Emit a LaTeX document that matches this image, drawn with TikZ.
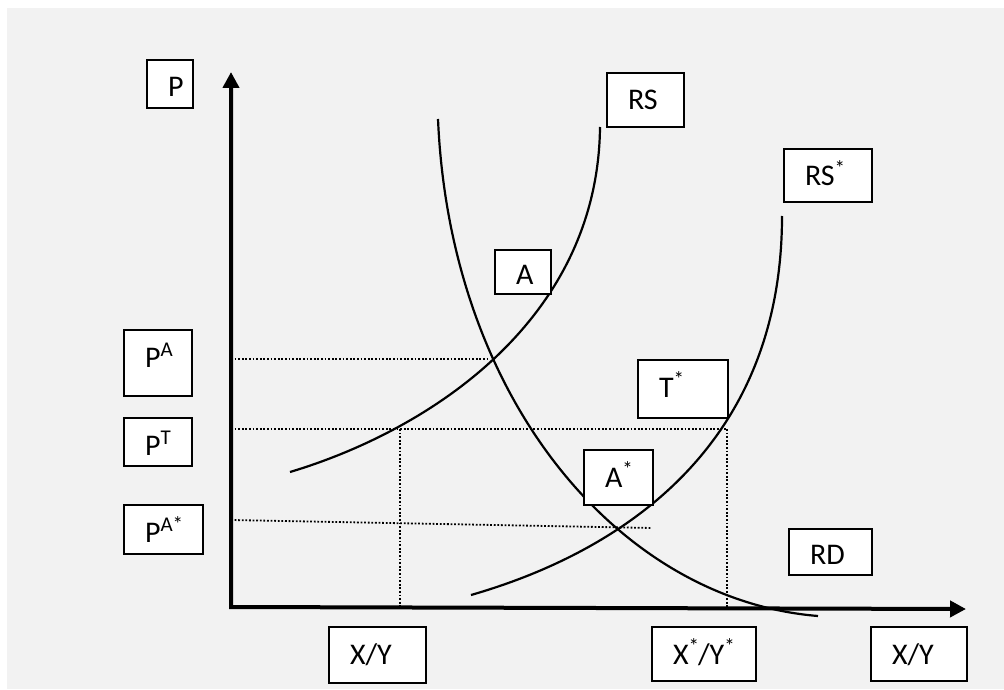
\documentclass[tikz,border=0pt]{standalone}
\usepackage{fontspec}
\setmainfont{Carlito}
\usepackage{xcolor}
\usepackage{tikz}
\usetikzlibrary{
  arrows.meta,
  positioning,
  calc
}
\definecolor{tdBack}{HTML}{F2F2F2}
\definecolor{tdInk}{HTML}{000000}
\definecolor{tdGuide}{HTML}{000000}
\tikzset{
  tbox/.style={
    draw=tdInk, fill=white, line width=1pt, anchor=north west, inner sep=0pt,
    align=left, text height=18.5pt, font=\fontsize{15}{18}\selectfont,
    execute at begin node={\hspace*{10.5pt}}
  },
  axis/.style={line width=2pt, tdInk, {Triangle[length=8pt, width=8pt]}-{Triangle[length=8pt, width=8pt]}},
  curve/.style={line width=1.1pt, tdInk},
  guide/.style={line width=0.9pt, tdGuide, dash pattern=on 0.9pt off 0.9pt}
}

\begin{document}
\begin{tikzpicture}[x=0.5pt, y=-0.5pt]
  \useasboundingbox (0,0) rectangle (1004,689);
  \fill[tdBack] (7,8) rectangle (1004,689);

  % axes
  \coordinate (orig) at (231,607);
  \coordinate (yTip) at (231,72);
  \coordinate (xTip) at (966,609);

  % equilibrium points
  \coordinate (eqA) at (490,359);
  \coordinate (eqT) at (727,429);
  \coordinate (eqH) at (400,429);
  \coordinate (eqAs) at (652,528);

  % guide lines
  \draw[guide] (eqA -| orig) -- (eqA);
  \draw[guide] (eqT -| orig) -- (eqT);
  \draw[guide] (eqH) -- (eqH |- orig);
  \draw[guide] (eqT) -- (eqT |- orig);
  \draw[guide] (231,520) -- (eqAs);

  % curves
  \draw[curve] (290,472) .. controls (430,430) and (598,320) .. (600,127);
  \draw[curve] (438,119) .. controls (450,400) and (620,600) .. (818,616);
  \draw[curve] (471,595) .. controls (610,555) and (782,455) .. (782,216);

  \draw[axis] (yTip) -- (orig) -- (xTip);

  % labels
  \node[tbox, text width=23pt, text depth=5.5pt] (pLab) at (146,59) {P};
  \node[tbox, text width=34pt, text depth=14.5pt] (pA) at (123,329) {P\textsuperscript{A}};
  \node[tbox, text width=34pt, text depth=5.5pt] (pT) at (123,417) {P\textsuperscript{T}};
  \node[tbox, text width=39.5pt, text depth=6pt] (pAs) at (123,504) {P\textsuperscript{A*}};
  \node[tbox, text width=38.5pt, text depth=8.5pt] (rs) at (606,72) {RS};
  \node[tbox, text width=44pt, text depth=8pt] (rsS) at (783,148) {RS\textsuperscript{*}};
  \node[tbox, text width=28pt, text height=17.5pt, text depth=4.5pt] (ptA) at (494,249) {A};
  \node[tbox, text width=45pt, text depth=10.5pt] (ptT) at (637,359) {T\textsuperscript{*}};
  \node[tbox, text width=34.5pt, text depth=9pt] (ptAs) at (583,449) {A\textsuperscript{*}};
  \node[tbox, text width=41.5pt, text height=17.5pt, text depth=5.5pt] (rd) at (788,528) {RD};
  \node[tbox, text width=48.5pt, text depth=9.5pt] (xyH) at (328,626) {X/Y};
  \node[tbox, text width=52pt, text depth=8.5pt] (xyF) at (651,626) {X\textsuperscript{*}\kern-1pt/Y\textsuperscript{*}};
  \node[tbox, text width=48pt, text depth=8.5pt] (xyAx) at (870,626) {X/Y};
\end{tikzpicture}
\end{document}
